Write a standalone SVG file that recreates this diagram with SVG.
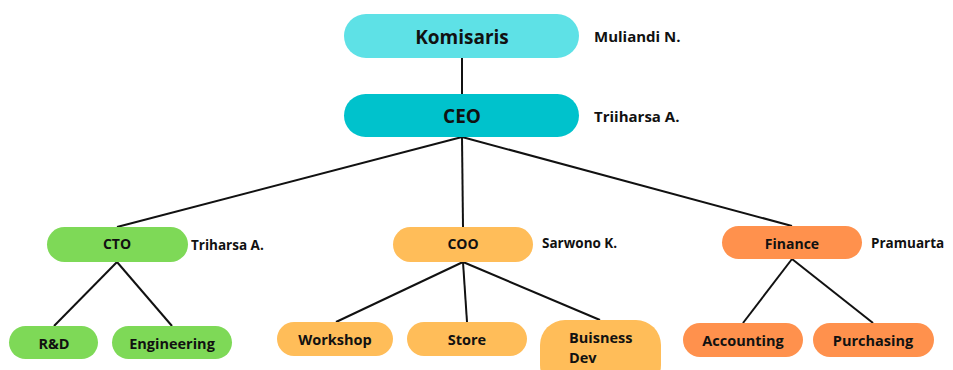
<svg xmlns="http://www.w3.org/2000/svg" width="953" height="370" viewBox="0 0 953 370">
<style>
text{font-family:"Open Sans","Liberation Sans",sans-serif;font-weight:700;fill:#111}
.c{text-anchor:middle;dominant-baseline:central}
.t1{font-size:19px}
.n1{font-size:15px}
.t2{font-size:14px}
.n2{font-size:13.5px}
.t3{font-size:14.5px}
.ln{stroke:#111;stroke-width:2;fill:none}
.cy1{fill:#5EE1E6}.cy2{fill:#00C2CC}.gr{fill:#7ED957}.yl{fill:#FFBD59}.or{fill:#FF914D}
</style>
<rect width="953" height="370" fill="#fff"/>
<g id="connectors" class="ln">
<line x1="462" y1="58" x2="462" y2="94"/>
<line x1="462" y1="137" x2="117" y2="227"/>
<line x1="462" y1="137" x2="463" y2="227"/>
<line x1="462" y1="137" x2="792" y2="226"/>
<line x1="117" y1="262" x2="54" y2="326"/>
<line x1="117" y1="262" x2="172" y2="326"/>
<line x1="463" y1="262" x2="336" y2="322"/>
<line x1="463" y1="262" x2="467" y2="322"/>
<line x1="463" y1="262" x2="600" y2="320"/>
<line x1="792" y1="259" x2="743" y2="323"/>
<line x1="792" y1="259" x2="873" y2="323"/>
</g>
<g id="komisaris">
<rect class="cy1" x="344" y="14" width="235" height="44" rx="22"/>
<text class="c t1" x="462" y="37">Komisaris</text>
<text class="n1" x="594" y="42">Muliandi N.</text>
</g>
<g id="ceo">
<rect class="cy2" x="344" y="94" width="235" height="43" rx="21.5"/>
<text class="c t1" x="462" y="116">CEO</text>
<text class="n1" x="594" y="122">Triiharsa A.</text>
</g>
<g id="cto">
<rect class="gr" x="47" y="227" width="141" height="35" rx="17.5"/>
<text class="c t2" x="117" y="243">CTO</text>
<text class="n2" x="191" y="250">Triharsa A.</text>
</g>
<g id="coo">
<rect class="yl" x="393" y="227" width="140" height="35" rx="17.5"/>
<text class="c t2" x="463" y="243">COO</text>
<text class="n2" x="542" y="248">Sarwono K.</text>
</g>
<g id="finance">
<rect class="or" x="722" y="226" width="140" height="33" rx="16.5"/>
<text class="c t2" x="792" y="243">Finance</text>
<text class="n2" x="871" y="248">Pramuarta</text>
</g>
<g id="rnd">
<rect class="gr" x="9" y="326" width="89" height="33" rx="16.5"/>
<text class="c t3" x="54" y="343">R&amp;D</text>
</g>
<g id="engineering">
<rect class="gr" x="112" y="326" width="120" height="33" rx="16.5"/>
<text class="c t3" x="172" y="343">Engineering</text>
</g>
<g id="workshop">
<rect class="yl" x="277" y="322" width="116" height="34" rx="17"/>
<text class="c t3" x="335" y="339">Workshop</text>
</g>
<g id="store">
<rect class="yl" x="407" y="322" width="120" height="34" rx="17"/>
<text class="c t3" x="467" y="339">Store</text>
</g>
<g id="business-dev">
<rect class="yl" x="540" y="320" width="121" height="70" rx="25"/>
<text class="t3" x="569" y="343">Buisness</text>
<text class="t3" x="569" y="363">Dev</text>
</g>
<g id="accounting">
<rect class="or" x="683" y="323" width="120" height="34" rx="17"/>
<text class="c t3" x="743" y="340">Accounting</text>
</g>
<g id="purchasing">
<rect class="or" x="813" y="323" width="121" height="34" rx="17"/>
<text class="c t3" x="873" y="340">Purchasing</text>
</g>
</svg>
